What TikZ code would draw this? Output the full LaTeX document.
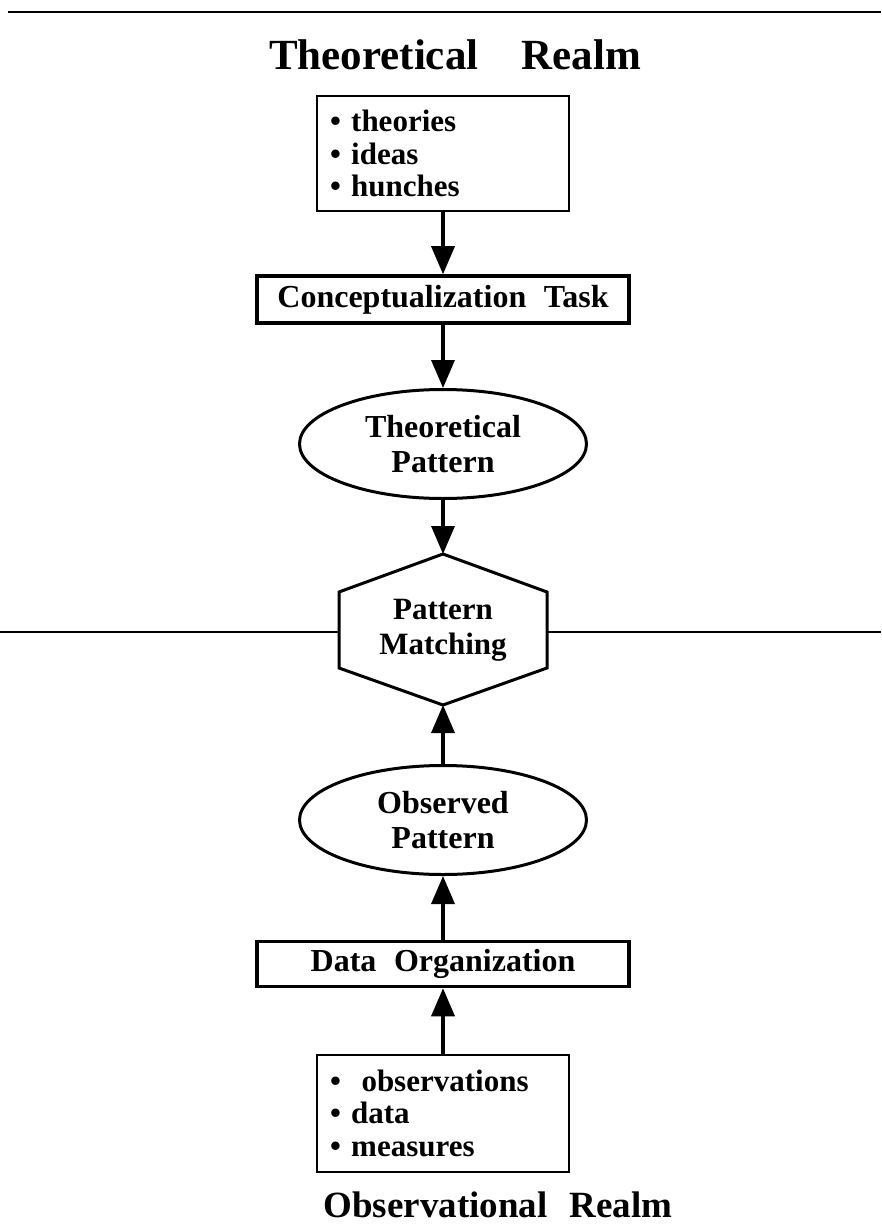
\documentclass[tikz,border=0pt]{standalone}
\usepackage{fontspec}
\setmainfont{Liberation Serif}
\usetikzlibrary{arrows.meta, shapes.geometric, positioning}

\begin{document}
\begin{tikzpicture}[x=1pt, y=-1pt,
    listbox/.style={draw, line width=2pt, text width=226pt, inner xsep=13pt, align=left, minimum height=115pt, font=\fontsize{31}{32.5}\selectfont\bfseries},
    taskbox/.style={draw, line width=3.5pt, minimum width=372pt, minimum height=47pt, inner sep=0pt, font=\fontsize{32}{34}\selectfont\bfseries},
    patt/.style={ellipse, draw, line width=3pt, minimum width=287pt, minimum height=109pt, inner sep=0pt, align=center, font=\fontsize{32}{35}\selectfont\bfseries},
    realm/.style={anchor=base, font=\fontsize{43}{46}\selectfont\bfseries},
    flow/.style={line width=3.5pt, -{Triangle[width=23pt, length=28pt]}}
  ]
  \useasboundingbox (0,0) rectangle (881,1230);
  % Rules
  \draw[line width=2.5pt] (8,12) -- (881,12);
  % Theoretical side
  \node[realm] (trealm) at (455,70) {Theoretical\quad Realm};
  \node[listbox] (ideas) at (443,153.5) {• theories\\• ideas\\• hunches};
  \node[taskbox] (concept) at (443,299.5) {Conceptualization\hspace{0.55em}Task};
  \node[patt] (theo) at (443,444) {Theoretical\\Pattern};
  % Pattern matching hexagon
  \coordinate (mtop) at (443,554);
  \coordinate (mbot) at (443,705);
  \draw[line width=2.5pt] (0,632) -- (339,632);
  \draw[line width=2.5pt] (547,632) -- (881,632);
  \draw[line width=3pt, fill=white] (mtop) -- (547,592) -- (547,668) -- (mbot) -- (339,668) -- (339,592) -- cycle;
  \node[align=center, font=\fontsize{31}{35}\selectfont\bfseries] (match) at (443,630) {Pattern\\Matching};
  % Observational side
  \node[patt] (obs) at (443,820) {Observed\\Pattern};
  \node[taskbox, minimum height=45pt] (org) at (443,964) {Data\hspace{0.55em}Organization};
  \node[listbox, minimum height=117pt] (data) at (443,1113) {•\ \ observations\\• data\\• measures};
  \node[realm, font=\fontsize{37}{40}\selectfont\bfseries] (orealm) at (498,1217) {Observational\hspace{0.6em}Realm};
  % Arrows
  \draw[flow] (ideas) -- (concept);
  \draw[flow] (concept) -- (theo);
  \draw[flow] (theo) -- (mtop);
  \draw[flow] (obs) -- (mbot);
  \draw[flow] (org) -- (obs);
  \draw[flow] (data) -- (org);
\end{tikzpicture}
\end{document}
